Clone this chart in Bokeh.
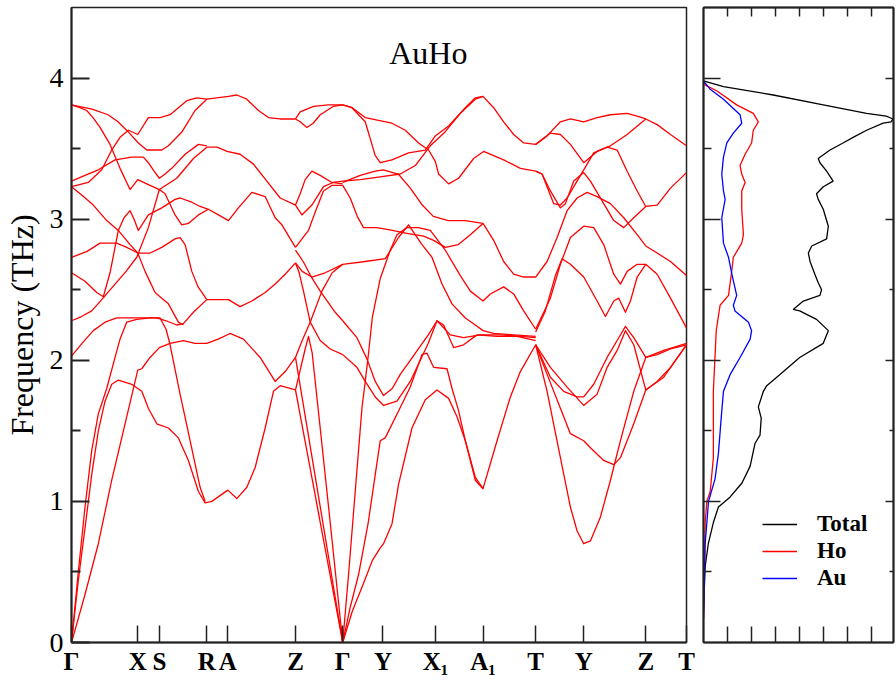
from bokeh.plotting import figure
from bokeh.models import Range1d, FixedTicker, LinearAxis, Label, Legend, LegendItem
from bokeh.layouts import row
from bokeh.embed import file_html
from bokeh.resources import INLINE

# ---- high-symmetry path ----
kpts = [0, 0.662, 0.878, 1.352, 1.562, 2.238, 2.71, 3.112, 3.638, 4.112, 4.638, 5.118, 5.738, 6.145]
klabels = ["Γ", "X", "S", "R", "A", "Z", "Γ", "Y", "X₁", "A₁", "T", "Y", "Z", "T"]

# ---- phonon branches (k along path, frequency in THz) ----
ac_gz1 = ([0, 0.068, 0.135, 0.202, 0.268, 0.335, 0.402, 0.468, 0.602, 0.702, 0.768, 0.852, 0.968, 1.068, 1.168, 1.268, 1.335, 1.402, 1.562, 1.652, 1.752, 1.835, 1.935, 2.018, 2.085, 2.238],
          [0, 0.44, 0.81, 1.19, 1.50, 1.71, 1.83, 1.86, 1.83, 1.78, 1.66, 1.55, 1.52, 1.45, 1.29, 1.07, 0.99, 1.00, 1.08, 1.02, 1.10, 1.24, 1.52, 1.78, 1.82, 1.79])
ac_gz2 = ([0, 0.068, 0.135, 0.202, 0.268, 0.352, 0.435, 0.485, 0.552, 0.652, 0.785, 0.885, 0.945, 0.985, 1.085, 1.185, 1.285, 1.335],
          [0, 0.50, 0.96, 1.36, 1.62, 1.80, 2.02, 2.15, 2.27, 2.29, 2.30, 2.30, 2.22, 2.11, 1.76, 1.43, 1.10, 1.00])
ac_gz3 = ([0, 0.135, 0.268, 0.402, 0.535, 0.662, 0.702, 0.785, 0.878, 0.985, 1.118, 1.235, 1.352, 1.465, 1.585, 1.718, 1.885, 2.035, 2.135, 2.238],
          [0, 0.34, 0.70, 1.15, 1.55, 1.93, 1.94, 2.02, 2.09, 2.12, 2.14, 2.12, 2.12, 2.15, 2.19, 2.15, 2.02, 1.85, 1.92, 2.02])
op_gz1 = ([0, 0.105, 0.218, 0.335, 0.452, 0.652, 0.852, 0.945, 1.052, 1.118, 1.218, 1.352, 1.465, 1.568, 1.685, 1.802, 1.935, 2.035, 2.135, 2.238],
          [2.03, 2.12, 2.21, 2.27, 2.30, 2.30, 2.30, 2.28, 2.25, 2.26, 2.34, 2.43, 2.43, 2.43, 2.38, 2.42, 2.48, 2.54, 2.61, 2.69])
op_gz2 = ([0, 0.152, 0.285, 0.452, 0.552, 0.662, 0.785, 0.902, 1.035, 1.085, 1.135, 1.202, 1.265, 1.352],
          [2.73, 2.77, 2.83, 2.83, 2.80, 2.76, 2.76, 2.80, 2.86, 2.87, 2.82, 2.63, 2.52, 2.43])
op_gz3 = ([0, 0.105, 0.218, 0.352, 0.468, 0.585, 0.662, 0.735, 0.835, 0.902, 0.968, 1.068, 1.118],
          [3.23, 3.17, 3.10, 2.99, 2.92, 2.82, 2.76, 2.63, 2.48, 2.44, 2.40, 2.27, 2.25])
op_gz4 = ([0, 0.135, 0.252, 0.318, 0.385, 0.468, 0.525, 0.585, 0.625, 0.668, 0.768, 0.902, 1.035, 1.085, 1.202, 1.285, 1.368, 1.468, 1.568, 1.668, 1.802, 1.935, 2.035, 2.102, 2.238],
          [2.62, 2.56, 2.48, 2.45, 2.62, 2.92, 3.01, 3.06, 3.00, 2.92, 3.03, 3.08, 3.14, 3.15, 3.12, 3.09, 3.07, 3.03, 2.99, 3.08, 3.19, 3.16, 3.01, 2.96, 2.80])
op_gz5 = ([0, 0.10, 0.202, 0.315, 0.435, 0.545, 0.652, 0.768, 0.878, 0.935, 1.035, 1.102, 1.168, 1.268, 1.368],
          [2.28, 2.31, 2.35, 2.44, 2.54, 2.63, 2.73, 2.94, 3.21, 3.18, 3.03, 2.96, 2.97, 3.03, 3.07])
op_gz6 = ([0, 0.135, 0.268, 0.435, 0.602, 0.718, 0.768, 0.825, 0.878, 0.935, 1.002, 1.135, 1.268, 1.352],
          [3.27, 3.31, 3.35, 3.42, 3.44, 3.44, 3.40, 3.34, 3.29, 3.32, 3.36, 3.46, 3.53, 3.52])
op_gz7 = ([0, 0.168, 0.302, 0.402, 0.485, 0.568, 0.662, 0.768, 0.885, 0.985, 1.152, 1.252, 1.352],
          [3.23, 3.26, 3.35, 3.49, 3.58, 3.63, 3.60, 3.72, 3.72, 3.74, 3.84, 3.86, 3.85])
op_gz8 = ([0, 0.205, 0.365, 0.465, 0.565, 0.668, 0.752, 0.902, 0.968, 1.105, 1.235, 1.352, 1.568, 1.652, 1.752, 1.868, 1.968, 2.085, 2.238],
          [3.81, 3.78, 3.74, 3.69, 3.62, 3.54, 3.49, 3.49, 3.52, 3.62, 3.77, 3.85, 3.87, 3.88, 3.85, 3.77, 3.72, 3.71, 3.71])
op_gz9 = ([0, 0.085, 0.152, 0.215, 0.285, 0.385, 0.485, 0.585, 0.662, 0.752, 0.878, 1.052, 1.218, 1.352, 1.455, 1.555, 1.685, 1.818, 1.952, 2.085, 2.238],
          [3.81, 3.79, 3.77, 3.72, 3.65, 3.53, 3.36, 3.21, 3.28, 3.25, 3.21, 3.29, 3.43, 3.51, 3.51, 3.48, 3.46, 3.39, 3.27, 3.15, 3.10])

zg1 = ([2.238, 2.285, 2.418, 2.565, 2.71], [3.71, 3.76, 3.80, 3.81, 3.81])
zg2 = ([2.238, 2.285, 2.352, 2.415, 2.485, 2.618, 2.71], [3.71, 3.69, 3.65, 3.68, 3.74, 3.80, 3.81])
zg3 = ([2.238, 2.285, 2.335, 2.402, 2.485, 2.602, 2.71], [3.10, 3.18, 3.28, 3.34, 3.31, 3.26, 3.25])
zg4 = ([2.238, 2.302, 2.402, 2.518, 2.615, 2.71], [3.10, 3.03, 3.10, 3.23, 3.26, 3.27])
zg5 = ([2.238, 2.368, 2.435, 2.518, 2.605, 2.71], [2.80, 2.92, 3.05, 3.20, 3.24, 3.24])
zg6 = ([2.238, 2.315, 2.405, 2.485, 2.635, 2.71], [2.78, 2.70, 2.58, 2.49, 2.34, 2.28])
zg7 = ([2.238, 2.275, 2.318, 2.385, 2.485, 2.585, 2.71], [2.69, 2.62, 2.49, 2.27, 2.14, 2.08, 2.04])
zg8 = ([2.238, 2.305, 2.402, 2.535, 2.71], [2.69, 2.63, 2.59, 2.62, 2.68])
zg9 = ([2.238, 2.305, 2.385, 2.502, 2.605, 2.71], [2.02, 2.14, 2.27, 2.49, 2.62, 2.68])
zg_ac1 = ([2.238, 2.71], [2.02, 0])
zg_ac2 = ([2.238, 2.71], [1.79, 0])
zg_ac3 = ([2.238, 2.285, 2.335, 2.368, 2.405, 2.485, 2.585, 2.71], [1.79, 1.93, 2.08, 2.17, 2.05, 1.52, 0.85, 0])

gt_ac1 = ([2.71, 2.805, 2.918, 3.005, 3.085, 3.118, 3.202, 3.268, 3.402, 3.535, 3.652, 3.768, 3.852, 3.935, 4.035, 4.112, 4.252, 4.385, 4.485, 4.638],
          [0, 0.22, 0.42, 0.58, 0.67, 0.70, 0.84, 1.12, 1.52, 1.72, 1.79, 1.73, 1.60, 1.43, 1.15, 1.09, 1.43, 1.74, 1.92, 2.11])
gt_ac2 = ([2.71, 2.785, 2.868, 2.965, 3.035, 3.085, 3.135, 3.268, 3.385, 3.502, 3.552, 3.618, 3.752, 3.802, 3.865, 3.935, 4.035, 4.112],
          [0, 0.25, 0.48, 0.85, 1.19, 1.43, 1.45, 1.64, 1.81, 2.04, 2.05, 1.95, 1.94, 1.80, 1.65, 1.43, 1.17, 1.09])
gt_ac3 = ([2.71, 2.768, 2.835, 2.902, 2.935, 2.968, 3.005, 3.085, 3.185, 3.252, 3.352, 3.465, 3.585, 3.735, 3.885, 3.985, 4.112, 4.185, 4.318, 4.418, 4.518, 4.638],
          [0, 0.48, 1.07, 1.66, 1.85, 2.05, 2.30, 2.58, 2.78, 2.89, 2.94, 2.94, 2.92, 2.78, 2.60, 2.49, 2.42, 2.47, 2.52, 2.47, 2.35, 2.22])
gt_o1 = ([2.71, 2.852, 2.952, 3.035, 3.118, 3.205, 3.285, 3.385, 3.485, 3.565, 3.652, 3.718, 3.818, 3.918, 4.052, 4.252, 4.452, 4.638],
         [2.28, 2.16, 2.01, 1.85, 1.75, 1.80, 1.90, 2.00, 2.10, 2.18, 2.28, 2.25, 2.09, 2.11, 2.18, 2.17, 2.17, 2.14])
gt_o2 = ([2.71, 2.852, 2.935, 3.035, 3.118, 3.252, 3.385, 3.485, 3.565, 3.652, 3.785, 3.918, 4.085, 4.285, 4.485, 4.638],
         [2.04, 1.95, 1.85, 1.74, 1.68, 1.71, 1.85, 2.00, 2.12, 2.28, 2.18, 2.16, 2.18, 2.18, 2.17, 2.16])
gt_o3 = ([2.71, 2.935, 3.135, 3.268, 3.368, 3.502, 3.602, 3.702, 3.802, 3.935, 4.035, 4.112, 4.218, 4.418, 4.638],
         [2.68, 2.70, 2.72, 2.87, 2.96, 2.82, 2.73, 2.54, 2.40, 2.30, 2.25, 2.21, 2.19, 2.18, 2.17])
gt_o4 = ([2.71, 2.785, 2.855, 2.918, 3.052, 3.205, 3.352, 3.518, 3.618, 3.735, 3.865, 3.985, 4.112],
         [3.24, 3.15, 3.02, 2.94, 2.94, 2.92, 2.90, 2.88, 2.85, 2.80, 2.82, 2.89, 2.97])
gt_o5 = ([2.71, 2.885, 3.035, 3.115, 3.265, 3.385, 3.505, 3.615, 3.765, 3.935, 4.112],
         [3.26, 3.31, 3.34, 3.35, 3.32, 3.22, 3.10, 3.02, 2.99, 2.99, 2.97])
gt_o6 = ([2.71, 2.885, 3.085, 3.285, 3.435, 3.585, 3.735, 3.885, 4.035, 4.112],
         [3.27, 3.28, 3.30, 3.32, 3.38, 3.52, 3.62, 3.75, 3.85, 3.87])
gt_o7 = ([2.71, 2.805, 2.935, 3.068, 3.202, 3.335, 3.468, 3.568, 3.635, 3.668, 3.768, 3.868, 4.018, 4.118, 4.318, 4.485, 4.638],
         [3.81, 3.79, 3.72, 3.70, 3.68, 3.63, 3.54, 3.49, 3.41, 3.32, 3.25, 3.29, 3.43, 3.48, 3.42, 3.36, 3.34])
gt_o8 = ([2.71, 2.802, 2.935, 3.035, 3.085, 3.202, 3.368, 3.535, 3.635, 3.768, 3.935, 4.035, 4.112, 4.218, 4.318, 4.418, 4.518, 4.638, 4.752, 4.885, 4.985, 5.118, 5.252, 5.385, 5.552, 5.652, 5.738, 5.852, 5.985, 6.145],
         [3.81, 3.79, 3.69, 3.45, 3.40, 3.42, 3.47, 3.49, 3.59, 3.66, 3.79, 3.86, 3.87, 3.79, 3.69, 3.60, 3.54, 3.53, 3.59, 3.69, 3.71, 3.69, 3.72, 3.74, 3.75, 3.73, 3.71, 3.67, 3.60, 3.52])

tt_m1 = ([4.638, 4.702, 4.785, 4.885, 4.935, 5.018, 5.118, 5.185, 5.318, 5.418, 5.518, 5.618, 5.738, 5.852, 5.985, 6.145],
         [3.34, 3.32, 3.20, 3.08, 3.11, 3.27, 3.33, 3.27, 3.11, 2.99, 2.94, 3.01, 3.09, 3.10, 3.22, 3.33])
tt_m2 = ([4.638, 4.702, 4.818, 4.885, 4.952, 5.035, 5.102, 5.218, 5.352, 5.452, 5.552, 5.652, 5.738],
         [3.34, 3.32, 3.11, 3.10, 3.15, 3.25, 3.33, 3.47, 3.51, 3.49, 3.34, 3.20, 3.09])
tt_top = ([4.638, 4.785, 4.885, 4.985, 5.118, 5.252, 5.385, 5.552, 5.738],
          [3.53, 3.61, 3.60, 3.53, 3.40, 3.48, 3.52, 3.60, 3.71])
tt_o1 = ([4.112, 4.218, 4.318, 4.418, 4.518, 4.638, 4.752, 4.852, 4.952, 5.052, 5.152, 5.252, 5.385, 5.518, 5.652, 5.738, 5.852, 5.985, 6.145],
         [2.97, 2.85, 2.70, 2.61, 2.59, 2.59, 2.70, 2.87, 3.06, 3.15, 3.19, 3.16, 3.11, 3.01, 2.89, 2.81, 2.76, 2.70, 2.60])
tt_o2 = ([4.638, 4.785, 4.885, 4.985, 5.118, 5.218, 5.318, 5.418, 5.485, 5.552, 5.652, 5.738, 5.852, 5.985, 6.145],
         [2.22, 2.44, 2.68, 2.87, 2.95, 2.94, 2.82, 2.61, 2.54, 2.63, 2.68, 2.68, 2.61, 2.44, 2.23])
tt_o3 = ([4.638, 4.735, 4.835, 4.902, 4.985, 5.118, 5.252, 5.335, 5.418, 5.468, 5.535, 5.585, 5.652, 5.738],
         [2.20, 2.35, 2.60, 2.72, 2.68, 2.59, 2.42, 2.31, 2.42, 2.44, 2.34, 2.42, 2.59, 2.68])
tt_ac1 = ([4.638, 4.752, 4.885, 4.985, 5.052, 5.118, 5.185, 5.285, 5.385, 5.485, 5.618, 5.738, 5.852, 5.985, 6.145],
          [2.11, 1.78, 1.31, 0.96, 0.79, 0.70, 0.72, 0.89, 1.15, 1.43, 1.78, 2.02, 2.04, 2.08, 2.11])
tt_ac2 = ([4.638, 4.752, 4.885, 4.985, 5.118, 5.185, 5.318, 5.418, 5.485, 5.618, 5.738, 5.852, 5.985, 6.145],
          [2.11, 1.90, 1.66, 1.48, 1.43, 1.38, 1.29, 1.26, 1.31, 1.55, 1.79, 1.85, 1.95, 2.11])
tt_ac3 = ([4.638, 4.785, 4.918, 5.052, 5.118, 5.218, 5.352, 5.452, 5.535, 5.618, 5.738, 5.918, 6.145],
          [2.11, 1.88, 1.78, 1.74, 1.74, 1.83, 2.02, 2.14, 2.24, 2.16, 2.02, 2.07, 2.12])
tt_o4 = ([4.638, 4.785, 4.952, 5.118, 5.252, 5.352, 5.452, 5.535, 5.618, 5.738, 5.918, 6.145],
         [2.11, 1.95, 1.81, 1.68, 1.76, 1.95, 2.07, 2.21, 2.11, 1.79, 1.88, 2.11])

branches = [ac_gz1, ac_gz2, ac_gz3, op_gz1, op_gz2, op_gz3, op_gz4, op_gz5, op_gz6, op_gz7, op_gz8, op_gz9,
            zg1, zg2, zg3, zg4, zg5, zg6, zg7, zg8, zg9, zg_ac1, zg_ac2, zg_ac3,
            gt_ac1, gt_ac2, gt_ac3, gt_o1, gt_o2, gt_o3, gt_o4, gt_o5, gt_o6, gt_o7, gt_o8,
            tt_m1, tt_m2, tt_top, tt_o1, tt_o2, tt_o3, tt_ac1, tt_ac2, tt_ac3, tt_o4]

# ---- phonon density of states (frequency in THz, DOS in arbitrary units) ----
dos_total_f = [0.23, 0.54, 0.70, 0.85, 0.96, 1.03, 1.13, 1.25, 1.41, 1.47, 1.59, 1.67, 1.78, 1.82, 1.90, 2.02, 2.12, 2.21,
               2.29, 2.35, 2.36, 2.42, 2.46, 2.50, 2.55, 2.61, 2.70, 2.76, 2.81, 2.86, 2.95, 3.07, 3.14, 3.18, 3.23, 3.27,
               3.34, 3.40, 3.43, 3.49, 3.54, 3.58, 3.63, 3.68, 3.69, 3.71, 3.73, 3.75, 3.81, 3.88, 3.94, 3.98]
dos_total = [0.0, 0.07, 0.2, 0.41, 0.62, 1.1, 1.6, 1.94, 2.14, 2.35, 2.4, 2.28, 2.49, 2.63, 3.18, 4.0, 4.98, 5.19,
             4.7, 4.0, 3.73, 4.15, 4.84, 4.91, 4.77, 4.63, 4.43, 4.36, 4.5, 5.12, 5.19, 4.98, 4.77, 4.7, 4.98, 5.39,
             5.12, 4.84, 4.77, 5.26, 5.8, 6.22, 6.78, 7.47, 7.8, 7.88, 7.6, 6.78, 4.98, 2.9, 0.83, 0.0]
dos_ho_f = [0.17, 0.85, 1.00, 1.07, 1.31, 1.78, 2.21, 2.39, 2.46, 2.64, 2.73, 2.83, 2.89, 3.07, 3.20, 3.26, 3.32, 3.38,
            3.46, 3.54, 3.63, 3.69, 3.75, 3.81, 3.91, 3.95, 3.98]
dos_ho = [0.0, 0.07, 0.14, 0.28, 0.41, 0.41, 0.53, 0.69, 1.04, 1.18, 1.24, 1.59, 1.66, 1.59, 1.59, 1.73, 1.59, 1.52,
          1.73, 2.0, 2.07, 2.28, 2.07, 1.38, 0.55, 0.07, 0.0]
dos_au_f = [0.17, 0.70, 1.00, 1.16, 1.34, 1.62, 1.78, 1.90, 2.02, 2.15, 2.21, 2.27, 2.35, 2.39, 2.46, 2.61, 2.73, 2.83,
            3.01, 3.14, 3.20, 3.32, 3.44, 3.54, 3.61, 3.68, 3.74, 3.85, 3.92, 3.98]
dos_au = [0.0, 0.07, 0.21, 0.48, 0.62, 0.75, 0.83, 1.11, 1.52, 1.94, 2.0, 1.87, 1.31, 1.24, 1.38, 1.18, 1.04, 0.83,
          0.76, 0.9, 0.83, 0.76, 0.83, 0.97, 1.24, 1.59, 1.52, 0.83, 0.28, 0.0]

SERIF = "Liberation Serif"
DARK = "#222222"

# ---- dispersion panel ----
p1 = figure(width=698, height=682, x_range=Range1d(0, 6.145), y_range=Range1d(0, 4.5),
            output_backend="svg", toolbar_location=None,
            min_border_left=71, min_border_right=12, min_border_top=7, min_border_bottom=40)
p1.grid.visible = False
p1.outline_line_color = DARK
p1.outline_line_width = 1.5

for k, f in branches:
    p1.line(k, f, line_color="#ff0000", line_width=1.3, line_join="round")

xa = p1.xaxis[0]
xa.ticker = FixedTicker(ticks=kpts, minor_ticks=[])
xa.major_label_overrides = {k: lab for k, lab in zip(kpts, klabels)}
xa.major_label_text_font = SERIF
xa.major_label_text_font_style = "bold"
xa.major_label_text_font_size = "25px"
xa.major_label_text_color = "black"
xa.major_label_standoff = 5
xa.major_tick_in = 17
xa.major_tick_out = 0
xa.major_tick_line_width = 1.5
xa.major_tick_line_color = DARK
xa.axis_line_width = 2
xa.axis_line_color = DARK

ya = p1.yaxis[0]
ya.ticker = FixedTicker(ticks=[0, 1, 2, 3, 4], minor_ticks=[0.5, 1.5, 2.5, 3.5])
ya.major_label_text_font = SERIF
ya.major_label_text_font_size = "28px"
ya.major_label_text_color = "black"
ya.major_label_standoff = 8
ya.major_tick_in = 18
ya.major_tick_out = 0
ya.minor_tick_in = 9
ya.minor_tick_out = 0
ya.major_tick_line_width = 2
ya.minor_tick_line_width = 2
ya.major_tick_line_color = DARK
ya.minor_tick_line_color = DARK
ya.axis_line_width = 2
ya.axis_line_color = DARK
ya.axis_label = "Frequency (THz)"
ya.axis_label_text_font = SERIF
ya.axis_label_text_font_style = "normal"
ya.axis_label_text_font_size = "32px"
ya.axis_label_text_color = "black"
ya.axis_label_standoff = 7

p1.add_layout(Label(x=3.565, y=4.18, text="AuHo", text_align="center", text_baseline="middle",
                    text_font=SERIF, text_font_size="32px", text_color="black"))

# ---- DOS panel ----
p2 = figure(width=198, height=682, x_range=Range1d(0, 7.9), y_range=Range1d(0, 4.5),
            output_backend="svg", toolbar_location=None,
            min_border_left=5, min_border_right=3, min_border_top=7, min_border_bottom=40)
p2.grid.visible = False
p2.outline_line_color = DARK
p2.outline_line_width = 1.5

r_tot = p2.line(dos_total, dos_total_f, line_color="black", line_width=1.3)
r_ho = p2.line(dos_ho, dos_ho_f, line_color="#ff0000", line_width=1.3)
r_au = p2.line(dos_au, dos_au_f, line_color="#0000ff", line_width=1.3)

p2.add_layout(LinearAxis(), "right")
p2.add_layout(LinearAxis(), "above")
dos_xticks = [1, 2, 3, 4, 5, 6, 7]
dos_yticks = [1, 2, 3, 4]
for ax in p2.xaxis:
    ax.ticker = FixedTicker(ticks=dos_xticks, minor_ticks=[])
    ax.major_label_overrides = {t: "" for t in dos_xticks}
for ax in p2.yaxis:
    ax.ticker = FixedTicker(ticks=dos_yticks, minor_ticks=[0.5, 1.5, 2.5, 3.5])
    ax.major_label_overrides = {t: "" for t in dos_yticks}
for ax in list(p2.xaxis) + list(p2.yaxis):
    ax.major_label_standoff = 0
    ax.major_label_text_font_size = "10px"
    ax.major_tick_out = 0
    ax.minor_tick_out = 0
    ax.axis_line_width = 2
    ax.axis_line_color = DARK
    ax.major_tick_line_color = DARK
    ax.minor_tick_line_color = DARK
    ax.major_tick_line_width = 1.5
    ax.minor_tick_line_width = 1.5
p2.below[0].major_tick_in = 16
p2.above[0].major_tick_in = 9
p2.left[0].major_tick_in = 17
p2.left[0].minor_tick_in = 8
p2.right[0].major_tick_in = 8
p2.right[0].minor_tick_in = 4

legend = Legend(items=[LegendItem(label="Total", renderers=[r_tot]),
                       LegendItem(label="Ho", renderers=[r_ho]),
                       LegendItem(label="Au", renderers=[r_au])],
                location=(59, 51), glyph_width=35, glyph_height=20, label_height=20,
                label_standoff=20, spacing=1, padding=0, margin=0,
                label_text_font=SERIF, label_text_font_style="bold", label_text_font_size="23px",
                label_text_color="black", border_line_alpha=0, background_fill_alpha=0)
p2.add_layout(legend)

layout = row(p1, p2)
open("out.html", "w").write(file_html(layout, INLINE))
